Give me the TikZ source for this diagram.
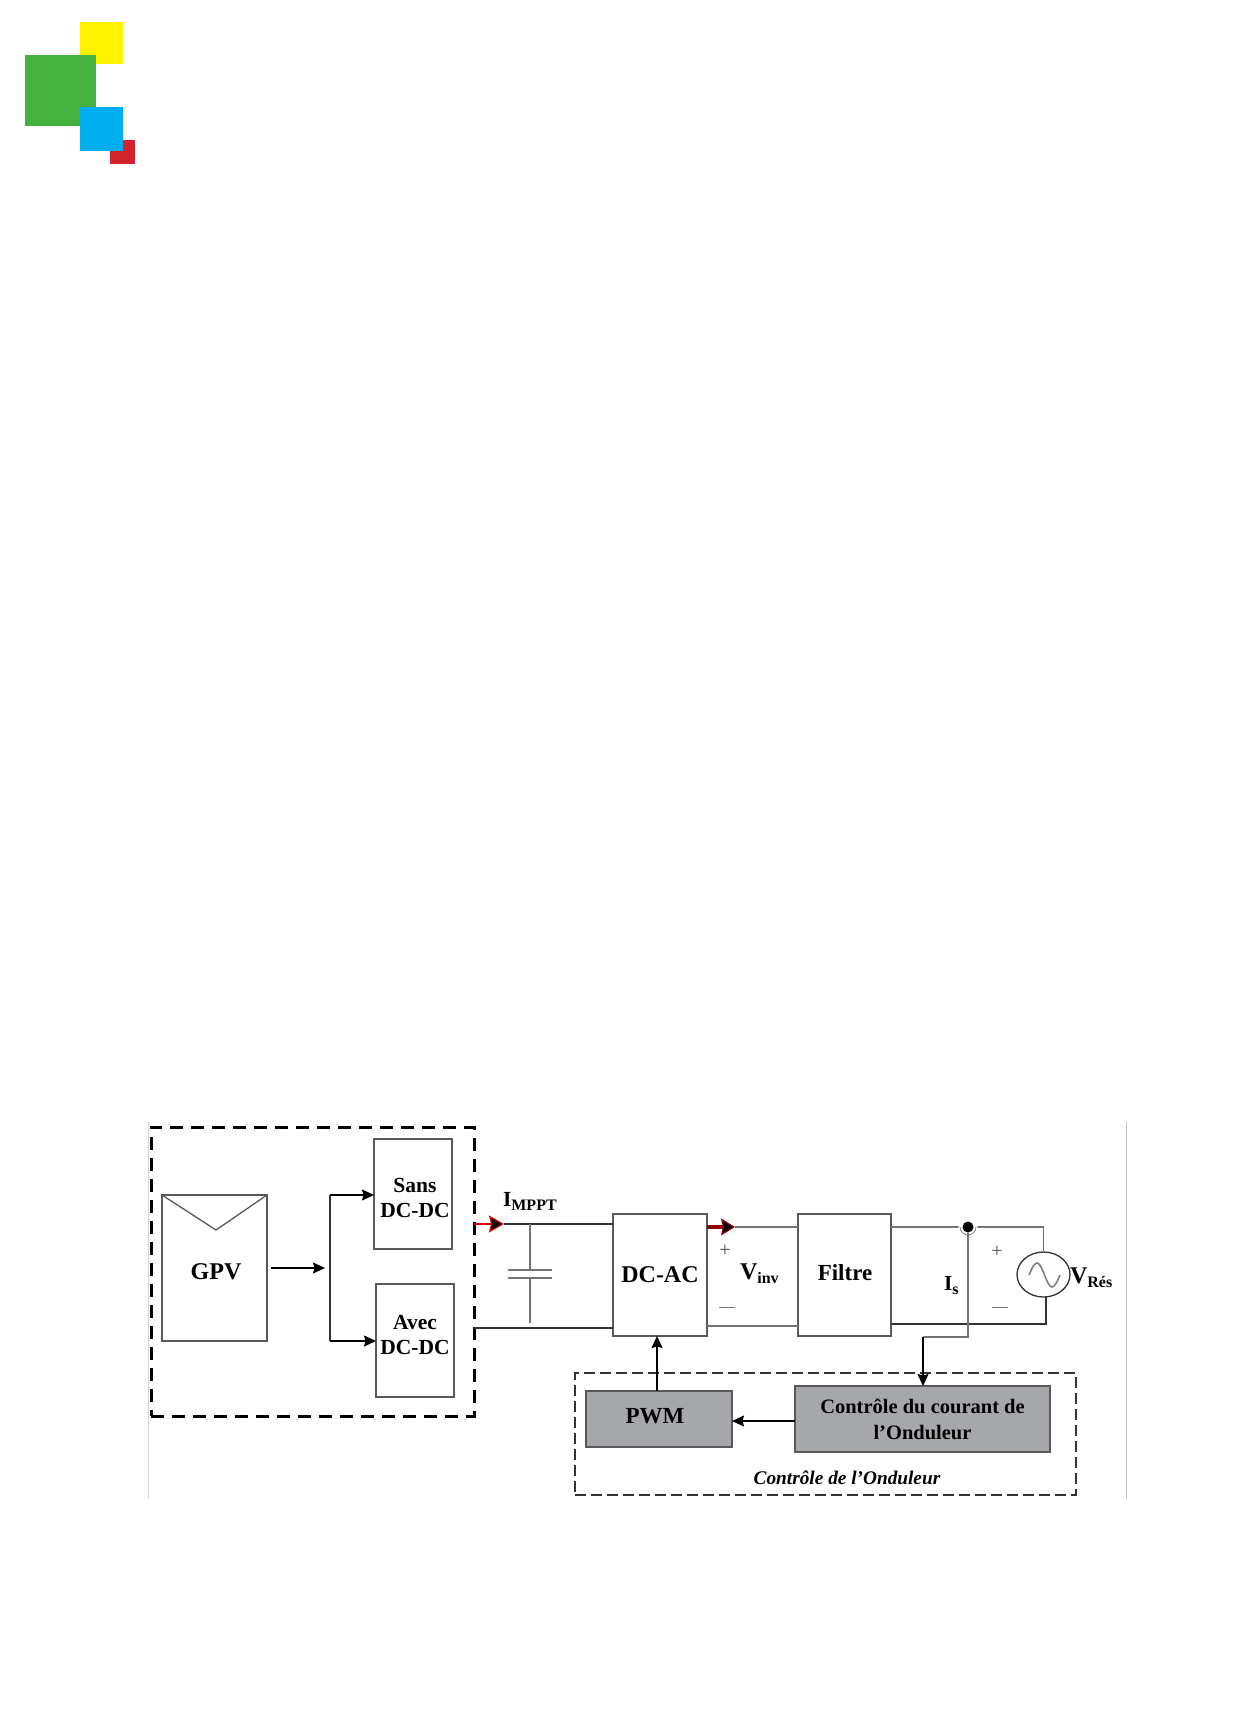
\documentclass[tikz,border=0pt]{standalone}
\usepackage{fontspec}
\setmainfont{Liberation Serif}
\usetikzlibrary{arrows.meta,shapes.geometric}
\definecolor{logoyellow}{HTML}{FFF200}
\definecolor{logogreen}{HTML}{43B13B}
\definecolor{logoblue}{HTML}{00AEEF}
\definecolor{logored}{HTML}{D2232A}
\definecolor{blocgrey}{HTML}{A6A7AA}
\definecolor{wire}{HTML}{333333}
\newcommand{\indice}[1]{\raisebox{-4pt}{\fontsize{16}{18}\selectfont #1}}
\tikzset{
  bloc/.style={draw=black!65, line width=1.5pt, inner sep=0pt, outer sep=0pt, align=center,
    font=\fontsize{21.5}{25}\selectfont\bfseries},
  grisbloc/.style={bloc, fill=blocgrey},
  etiquette/.style={inner sep=0pt, outer sep=0pt, align=center, font=\fontsize{21.5}{25}\selectfont\bfseries},
  grande/.style={font=\fontsize{24}{28}\selectfont\bfseries},
  signe/.style={inner sep=0pt, outer sep=0pt, text=black!70, font=\fontsize{20}{24}\selectfont},
  moins/.style={inner sep=0pt, outer sep=0pt, text=black!70, font=\fontsize{15.5}{18}\selectfont},
  fleche/.style={draw=black, line width=1.3pt, -{Stealth[length=12pt,width=11pt,inset=1.5pt]}},
  courant/.style={draw=red!85!black, line width=2.6pt,
    -{Stealth[length=15pt,width=17pt,inset=2pt,fill=black,line width=1.2pt]}},
  courantb/.style={draw=red!55!black, line width=3.4pt,
    -{Stealth[length=14pt,width=17pt,inset=2pt,fill=black,line width=1.2pt]}},
  fil/.style={draw=wire, line width=1.3pt},
  filgris/.style={draw=black!55, line width=1.6pt}
}
\begin{document}
\begin{tikzpicture}[x=1pt, y=-1pt]
  \useasboundingbox (0, 0) rectangle (1259, 1718);

  \begin{scope}
    \fill [color=logoyellow] (80, 22) rectangle (123, 64);
    \fill [color=logogreen] (25, 55) rectangle (96, 126);
    \fill [color=logored] (110, 140) rectangle (135, 164);
    \fill [color=logoblue] (80, 107) rectangle (123, 151);
  \end{scope}

  \draw [color=black!15, line width=.8pt] (148, 1122) -- (148, 1499);
  \draw [color=black!25, line width=.8pt] (1126, 1122) -- (1126, 1499);

  \node [draw, line width=3pt, dash pattern=on 13pt off 8pt, minimum width=323pt, minimum height=289pt,
    outer sep=0pt] (panel) at (312.5, 1271.5) {};
  \node [draw=black!80, line width=1.2pt, dash pattern=on 11pt off 5pt, minimum width=501pt, minimum height=122pt,
    outer sep=0pt] (ctrlzone) at (825.5, 1434) {};

  \node [bloc, minimum width=105pt, minimum height=146pt] (gpv) at (214.5, 1268) {};
  \node [etiquette, grande] (gpvlabel) at (216, 1272) {GPV};
  \coordinate (gpvfold) at (216, 1230);
  \draw [fil, color=black!65] (gpv.north west) -- (gpvfold) -- (gpv.north east);

  \node [bloc, minimum width=78pt, minimum height=110pt] (sans) at (413, 1194) {};
  \node [etiquette] (sanslabel) at (415, 1197.5) {Sans\\DC-DC};
  \node [bloc, minimum width=78pt, minimum height=113pt] (avec) at (415, 1340.5) {};
  \node [etiquette] (aveclabel) at (415, 1334.5) {Avec\\DC-DC};
  \node [bloc, grande, minimum width=94pt, minimum height=122pt] (dcac) at (660, 1275) {DC-AC};
  \node [bloc, minimum width=93pt, minimum height=122pt] (filtre) at (844.5, 1275) {};
  \node [etiquette, font=\fontsize{23}{27}\selectfont\bfseries] (filtrelabel) at (845, 1273) {Filtre};
  \node [grisbloc, minimum width=146pt, minimum height=56pt] (pwm) at (659, 1419) {};
  \node [etiquette, font=\fontsize{23}{27}\selectfont\bfseries] (pwmlabel) at (655, 1416) {PWM};
  \node [grisbloc, font=\fontsize{20.5}{26}\selectfont\bfseries, minimum width=255pt, minimum height=66pt]
    (ctrl) at (922.5, 1419) {Contrôle du courant de\\l’Onduleur};
  \node [draw=wire, line width=1.3pt, ellipse, inner sep=0pt, outer sep=0pt, minimum width=53pt,
    minimum height=45pt] (acsrc) at (1043.5, 1274.5) {};
  \draw [color=black!50, line width=1.6pt] (1029, 1275) sin (1037, 1263) cos (1044.5, 1275)
    sin (1052, 1287) cos (1060, 1275);

  \coordinate (busin) at (325, 1268);
  \coordinate (bustop) at (330, 1195);
  \coordinate (busbot) at (330, 1341);
  \draw [fleche, shorten <=4pt] (gpv) -- (busin);
  \draw [fil] (bustop) -- (busbot);
  \draw [fleche] (bustop) -- (sans.west |- bustop);
  \draw [fleche] (busbot) -- (avec.west |- busbot);

  \coordinate (impptend) at (504, 1224);
  \coordinate (lowin) at (474, 1328);
  \coordinate (captop) at (530, 1270);
  \coordinate (capbot) at (530, 1278);
  \coordinate (capend) at (530, 1323);
  \draw [fil] (impptend) -- (dcac.west |- impptend);
  \draw [courant] (panel.east |- impptend) -- (impptend);
  \draw [fil] (panel.east |- lowin) -- (dcac.west |- lowin);
  \draw [filgris] (captop |- impptend) -- (captop);
  \draw [filgris] (capbot) -- (capend);
  \draw [filgris] ([xshift=-22pt]captop) -- ([xshift=22pt]captop);
  \draw [filgris] ([xshift=-22pt]capbot) -- ([xshift=22pt]capbot);
  \node [etiquette, anchor=base west] (imppt) at (503, 1206) {I\indice{MPPT}};

  \coordinate (invout) at (735, 1227);
  \coordinate (invlow) at (707, 1326);
  \draw [filgris] (invout) -- (filtre.west |- invout);
  \draw [courantb] (dcac.east |- invout) -- (invout);
  \draw [filgris] (invlow) -- (filtre.west |- invlow);
  \node [signe] (vinvplus) at (725, 1251) {+};
  \node [moins] (vinvminus) at (727, 1309) {—};
  \node [etiquette, grande, anchor=base west] (vinv) at (740, 1279) {V\indice{inv}};

  \coordinate (gridlow) at (1046, 1324);
  \coordinate (sense) at (923, 1337);
  \node [fill=black, circle, inner sep=0pt, minimum size=11pt] (dot) at (968, 1227) {};
  \draw [filgris] (filtre.east |- dot) -- (dot) -| (acsrc.north);
  \draw [fil] (filtre.east |- gridlow) -- (gridlow) -- (gridlow |- acsrc.south);
  \node [fill=white, circle, inner sep=0pt, minimum size=19pt] (ring) at (dot) {};
  \draw [color=black!45, line width=.9pt] ([xshift=-8pt]ring.center) arc [start angle=180, end angle=360, radius=8pt];
  \node [fill=black, circle, inner sep=0pt, minimum size=11pt] (dotb) at (dot) {};
  \draw [filgris] (dotb) |- (sense);
  \draw [fleche] (sense) -- (sense |- ctrl.north);
  \node [etiquette, anchor=base west] (is) at (944, 1290.5) {I\indice{s}};
  \node [signe] (resplus) at (997, 1252) {+};
  \node [moins] (resminus) at (1000, 1309) {—};
  \node [etiquette, grande, anchor=base west] (vres) at (1070, 1283) {V\indice{Rés}};

  \coordinate (retour) at (760, 1421);
  \draw [fleche] (ctrl.west |- retour) -- (pwm.east |- retour);
  \draw [fleche] ([xshift=-2pt]pwm.north) -- ([xshift=-2pt]pwm.north |- dcac.south);

  \node [etiquette, font=\fontsize{19.3}{22}\selectfont\bfseries\itshape] (ctrlzonelabel) at (847, 1478)
    {Contrôle de l’Onduleur};
\end{tikzpicture}
\end{document}
